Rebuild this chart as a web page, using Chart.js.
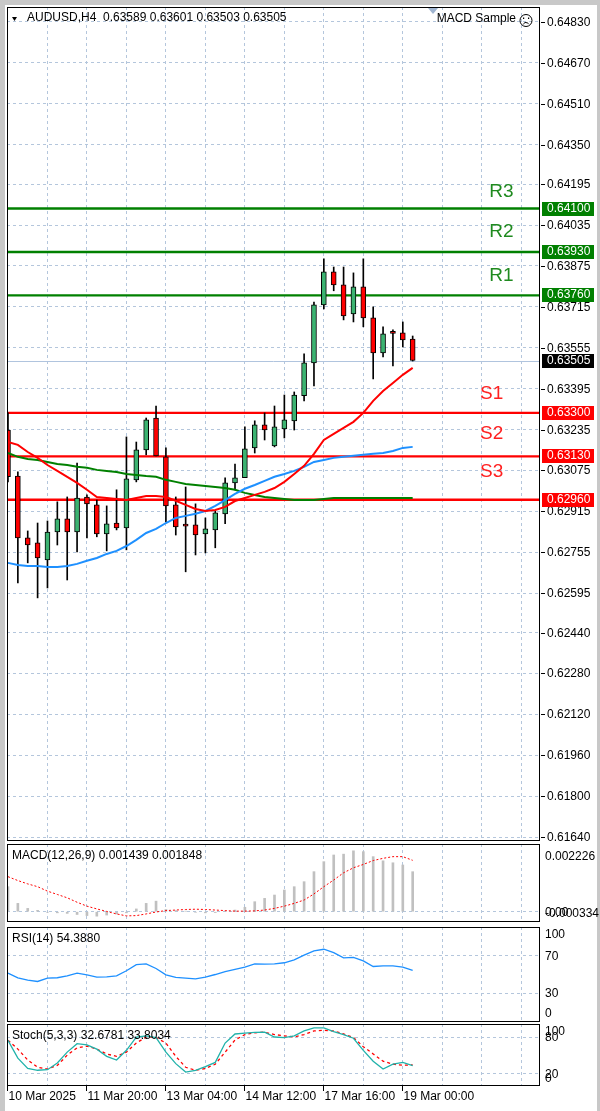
<!DOCTYPE html>
<html>
<head>
<meta charset="utf-8">
<script src="https://cdn.jsdelivr.net/npm/chart.js@4.4.1/dist/chart.umd.min.js"></script>
<style>
  body { margin: 0; width: 600px; height: 1111px; position: relative; background: #fff; overflow: hidden; }
  canvas { position: absolute; left: 0; }
  .edge { position: absolute; background: #c8c8c8; }
</style>
</head>
<body>
<div class="edge" style="left:0;top:0;width:600px;height:5px"></div>
<div class="edge" style="left:0;top:0;width:5px;height:1111px"></div>
<div class="edge" style="left:597px;top:0;width:3px;height:1111px"></div>
<canvas id="main" width="600" height="834" style="top:7px"></canvas>
<canvas id="macd" width="600" height="78" style="top:844px"></canvas>
<canvas id="rsi" width="600" height="95" style="top:927px"></canvas>
<canvas id="stoch" width="600" height="87" style="top:1024px"></canvas>
<script>
// AUDUSD H4 candles
const opens  = [0.63233,0.63053,0.62811,0.62791,0.62725,0.62834,0.62885,0.62834,0.62971,0.62940,0.62826,0.62869,0.62850,0.63038,0.63155,0.63280,0.63128,0.62940,0.62858,0.62862,0.62826,0.62842,0.62905,0.63026,0.63046,0.63163,0.63253,0.63171,0.63237,0.63269,0.63367,0.63496,0.63723,0.63852,0.63801,0.63687,0.63793,0.63672,0.63535,0.63613,0.63613,0.63589];
const highs  = [0.63300,0.63069,0.62838,0.62869,0.62877,0.62952,0.62971,0.63104,0.62979,0.62959,0.62936,0.62999,0.63206,0.63186,0.63280,0.63327,0.63163,0.62971,0.63010,0.62944,0.62889,0.62916,0.63046,0.63100,0.63245,0.63269,0.63300,0.63327,0.63370,0.63382,0.63531,0.63734,0.63903,0.63871,0.63871,0.63848,0.63903,0.63715,0.63637,0.63625,0.63656,0.63601];
const lows   = [0.63030,0.62635,0.62713,0.62576,0.62615,0.62783,0.62646,0.62756,0.62811,0.62815,0.62760,0.62842,0.62764,0.63030,0.63136,0.63132,0.62873,0.62822,0.62678,0.62744,0.62752,0.62772,0.62866,0.62999,0.63046,0.63143,0.63194,0.63167,0.63202,0.63233,0.63347,0.63406,0.63707,0.63778,0.63664,0.63656,0.63637,0.63433,0.63519,0.63484,0.63558,0.63503];
const closes = [0.63050,0.62811,0.62783,0.62732,0.62834,0.62885,0.62834,0.62967,0.62944,0.62826,0.62866,0.62850,0.63042,0.63155,0.63273,0.63132,0.62936,0.62854,0.62857,0.62822,0.62846,0.62909,0.63026,0.63046,0.63159,0.63253,0.63233,0.63245,0.63273,0.63370,0.63496,0.63723,0.63852,0.63801,0.63680,0.63793,0.63672,0.63535,0.63609,0.63611,0.63586,0.63505];

// moving averages
const maRed   = [0.63186,0.63175,0.63147,0.63124,0.63096,0.63073,0.63050,0.63026,0.62999,0.62971,0.62967,0.62963,0.62959,0.62967,0.62975,0.62975,0.62971,0.62956,0.62940,0.62924,0.62916,0.62920,0.62932,0.62955,0.62967,0.62979,0.62991,0.63006,0.63030,0.63061,0.63093,0.63140,0.63194,0.63218,0.63241,0.63265,0.63300,0.63347,0.63386,0.63417,0.63449,0.63476];
const maBlue  = [0.62713,0.62705,0.62701,0.62701,0.62697,0.62697,0.62701,0.62709,0.62721,0.62732,0.62748,0.62760,0.62779,0.62803,0.62830,0.62846,0.62869,0.62889,0.62897,0.62905,0.62916,0.62936,0.62959,0.62983,0.63003,0.63018,0.63034,0.63050,0.63061,0.63073,0.63089,0.63108,0.63116,0.63124,0.63128,0.63132,0.63136,0.63140,0.63143,0.63151,0.63163,0.63167];
const maGreen = [0.63143,0.63128,0.63120,0.63116,0.63108,0.63100,0.63096,0.63089,0.63085,0.63077,0.63073,0.63069,0.63061,0.63057,0.63053,0.63050,0.63038,0.63030,0.63022,0.63018,0.63014,0.63010,0.63006,0.62999,0.62987,0.62979,0.62971,0.62967,0.62963,0.62959,0.62959,0.62959,0.62963,0.62967,0.62967,0.62967,0.62967,0.62967,0.62967,0.62967,0.62967,0.62967];

// indicators
const macdHist   = [0.00090,0.00030,0.00012,0.00005,-0.00002,-0.00004,-0.00006,-0.00010,-0.00014,-0.00016,-0.00012,-0.00008,-0.00004,0.00010,0.00030,0.00038,0.00008,0.00004,0.00002,-0.00002,-0.00004,-0.00003,0.00002,0.00006,0.00016,0.00036,0.00048,0.00060,0.00078,0.00090,0.00108,0.00144,0.00180,0.00204,0.00207,0.00219,0.00216,0.00198,0.00183,0.00176,0.00168,0.001439];
const macdSignal = [0.00126,0.00112,0.00100,0.00090,0.00074,0.00062,0.00050,0.00034,0.00020,0.00010,0.00001,-0.00008,-0.00015,-0.00014,-0.00008,-0.00001,0.00004,0.00006,0.00008,0.00009,0.00008,0.00006,0.00004,0.00002,0.00002,0.00003,0.00006,0.00012,0.00020,0.00030,0.00042,0.00064,0.00090,0.00114,0.00140,0.00158,0.00170,0.00184,0.00192,0.00198,0.00198,0.001848];
const rsi        = [51.4,46.5,44.0,42.5,46.0,46.5,48.5,51.4,49.5,47.2,47.5,48.5,54.0,60.5,61.5,56.5,49.6,46.8,46.0,45.4,47.2,50.0,53.2,55.5,58.0,61.4,61.1,61.3,62.6,65.7,70.8,75.4,77.1,73.4,67.8,68.4,64.6,58.6,59.3,59.3,57.9,54.388];
const stochK     = [74.5,45,28,25,26,37,55,69,67,60,48,42,58,80,82,79,55,36,22,25,31,38,70,85,86.5,87.5,88,80,79,82,90,95,95,89,84,78,58,40,27,35,38,32.6781];
const stochD     = [74.5,60,42,30,27,33,50,62,65,60,52,48,55,70,80,79,70,48,30,25,28,35,55,75,84,87,88,84,82,80,84,90,91,90,85,79,64,52,40,35,33.5,33.8034];

// levels and labels
const levelNames  = ['R3', 'R2', 'R1', 'S1', 'S2', 'S3'];
const levelPrices = [0.64100, 0.63930, 0.63760, 0.63300, 0.63130, 0.62960];
const levelTextAt = [0.64165, 0.64008, 0.63836, 0.63374, 0.63218, 0.63069];
const lastPrice = 0.63505;
const priceTicks = [0.64830,0.64670,0.64510,0.64350,0.64195,0.64035,0.63875,0.63715,0.63555,0.63395,0.63235,0.63075,0.62915,0.62755,0.62595,0.62440,0.62280,0.62120,0.61960,0.61800,0.61640];
const macdTicks = [0.002226, 0, -0.000334];
const macdTickLabels = ['0.002226', '0.00', '-0.000334'];
const rsiTicks = [100, 70, 30, 0];
const stochTicks = [100, 80, 20, 0];
const dateLabels = ['10 Mar 2025', '11 Mar 20:00', '13 Mar 04:00', '14 Mar 12:00', '17 Mar 16:00', '19 Mar 00:00'];
const dateBars = [0, 8, 16, 24, 32, 40];

const FONT = '12px "Liberation Sans", Arial, sans-serif';
const GRID = '#b4c6dc';
const idx = closes.map((_, i) => i);
const pts = arr => arr.map((v, i) => ({x: i, y: v}));

function xAxis() {
  return {
    type: 'linear', min: -0.1, max: 53.9, offset: false,
    afterBuildTicks: s => { s.ticks = []; for (let v = 0; v <= 53; v += 4) s.ticks.push({value: v}); },
    ticks: {display: false},
    grid: {color: GRID, drawTicks: false, offset: false},
    border: {display: false, dash: [3, 3]}
  };
}
function yAxis(min, max, lines) {
  return {
    type: 'linear', position: 'right', min: min, max: max,
    afterBuildTicks: s => { s.ticks = lines.map(v => ({value: v})); },
    afterFit: s => { s.width = 60; },
    ticks: {display: false},
    grid: {color: GRID, drawTicks: false},
    border: {display: false, dash: [3, 3]}
  };
}
function text(ctx, s, x, y, color, font, align, base) {
  ctx.fillStyle = color;
  ctx.font = font || FONT;
  ctx.textAlign = align || 'left';
  ctx.textBaseline = base || 'middle';
  ctx.fillText(s, x, y);
}
const frame = {
  id: 'frame',
  afterDraw(chart) {
    const {ctx, chartArea: a} = chart;
    ctx.save();
    ctx.strokeStyle = '#000';
    ctx.lineWidth = 1;
    ctx.strokeRect(a.left + 0.5, a.top + 0.5, a.right - a.left - 1, a.bottom - a.top - 1);
    ctx.restore();
  }
};
// labels on the right of a sub window: top one hangs, bottom one sits
function sideLabels(values, labels) {
  return {
    id: 'side',
    afterDraw(chart) {
      const {ctx, scales: {y}} = chart;
      const hi = Math.max(...values), lo = Math.min(...values);
      values.forEach((v, k) => {
        const py = y.getPixelForValue(v);
        const base = v === hi ? 'top' : v === lo ? 'bottom' : 'middle';
        text(ctx, labels[k], 545, v === hi ? py + 1 : v === lo ? py - 1 : py + 1, '#000', FONT, 'left', base);
      });
    }
  };
}
function caption(s) {
  return {
    id: 'caption',
    afterDraw(chart) { text(chart.ctx, s, 12, chart.chartArea.top + 12, '#000'); }
  };
}
function baseOptions(x, y, padBottom) {
  return {
    responsive: false, animation: false, events: [],
    layout: {padding: {left: 7, top: 0, right: 0, bottom: padBottom || 0}},
    plugins: {legend: {display: false}, tooltip: {enabled: false}},
    scales: {x: x, y: y}
  };
}

// ---------- main price window ----------
const mainDecor = {
  id: 'mainDecor',
  beforeDatasetsDraw(chart) {
    const {ctx, chartArea: a, scales: {y}} = chart;
    ctx.save();
    ctx.beginPath(); ctx.rect(a.left, a.top, a.right - a.left, a.bottom - a.top); ctx.clip();
    const ly = y.getPixelForValue(lastPrice);
    ctx.strokeStyle = '#b0c4de'; ctx.lineWidth = 1;
    ctx.beginPath(); ctx.moveTo(a.left, Math.round(ly) + 0.5); ctx.lineTo(a.right, Math.round(ly) + 0.5); ctx.stroke();
    levelPrices.forEach((p, k) => {
      const py = y.getPixelForValue(p);
      ctx.strokeStyle = k < 3 ? '#008000' : '#ff0000';
      ctx.lineWidth = 2.4;
      ctx.beginPath(); ctx.moveTo(a.left, py); ctx.lineTo(a.right, py); ctx.stroke();
    });
    ctx.restore();
  },
  afterDatasetsDraw(chart) {
    const {ctx, scales: {x, y}} = chart;
    ctx.save();
    levelNames.forEach((n, k) => {
      const px = x.getPixelForValue(k < 3 ? 50 : 49);
      text(ctx, n, px, y.getPixelForValue(levelTextAt[k]), k < 3 ? '#1f8a1f' : '#ff2020', '19px "Liberation Sans", Arial, sans-serif', 'center');
    });
    // header
    ctx.fillStyle = '#000';
    ctx.beginPath(); ctx.moveTo(12, 10); ctx.lineTo(17, 10); ctx.lineTo(14.5, 14); ctx.closePath(); ctx.fill();
    text(ctx, 'AUDUSD,H4  ' + [opens, highs, lows, closes].map(a => a[a.length - 1].toFixed(5)).join(' '), 27, 11, '#000');
    text(ctx, 'MACD Sample', 516, 12, '#000', FONT, 'right');
    ctx.strokeStyle = '#000'; ctx.lineWidth = 1;
    ctx.beginPath(); ctx.arc(526, 13.5, 6, 0, Math.PI * 2); ctx.stroke();
    ctx.fillRect(523, 10.5, 1.2, 1.5); ctx.fillRect(528, 10.5, 1.2, 1.5);
    ctx.beginPath(); ctx.arc(526, 18.5, 3, Math.PI * 1.15, Math.PI * 1.85); ctx.stroke();
    ctx.fillStyle = '#9fb4d0';
    ctx.beginPath(); ctx.moveTo(428, 1); ctx.lineTo(438, 1); ctx.lineTo(433, 7); ctx.closePath(); ctx.fill();
    ctx.restore();
  },
  afterDraw(chart) {
    const {ctx, scales: {y}} = chart;
    ctx.save();
    ctx.strokeStyle = '#000'; ctx.lineWidth = 1;
    priceTicks.forEach(v => {
      const py = Math.round(y.getPixelForValue(v)) + 0.5;
      ctx.beginPath(); ctx.moveTo(541, py); ctx.lineTo(545, py); ctx.stroke();
      text(ctx, v.toFixed(5), 547, py, '#000');
    });
    const tag = (p, bg) => {
      const py = Math.round(y.getPixelForValue(p));
      ctx.fillStyle = bg; ctx.fillRect(542, py - 7, 52, 14);
      text(ctx, p.toFixed(5), 547, py, '#fff');
    };
    levelPrices.forEach((p, k) => tag(p, k < 3 ? '#008000' : '#ff0000'));
    tag(lastPrice, '#000');
    ctx.restore();
  }
};

new Chart(document.getElementById('main'), {
  type: 'bar',
  data: {
    datasets: [
      {type: 'line', data: pts(maRed), borderColor: '#ff0000', borderWidth: 2, pointRadius: 0, order: 0},
      {type: 'line', data: pts(maBlue), borderColor: '#1e90ff', borderWidth: 2, pointRadius: 0, order: 0},
      {type: 'line', data: pts(maGreen), borderColor: '#008000', borderWidth: 2, pointRadius: 0, order: 0},
      {
        data: idx.map(i => ({x: i, y: [opens[i], closes[i]]})),
        backgroundColor: idx.map(i => closes[i] >= opens[i] ? '#3cb371' : '#ff0000'),
        borderColor: '#000', borderWidth: 1, borderSkipped: false,
        barThickness: 5, minBarLength: 2, grouped: false, order: 1
      },
      {
        data: idx.map(i => ({x: i, y: [lows[i], highs[i]]})),
        backgroundColor: '#000', borderWidth: 0,
        barThickness: 1, grouped: false, order: 2
      }
    ]
  },
  options: baseOptions(xAxis(), yAxis(0.616244, 0.648887, priceTicks)),
  plugins: [mainDecor, frame]
});

// ---------- MACD ----------
new Chart(document.getElementById('macd'), {
  type: 'bar',
  data: {
    datasets: [
      {type: 'line', data: pts(macdSignal), borderColor: '#ff0000', borderWidth: 1, borderDash: [2, 2], pointRadius: 0, order: 0},
      {data: pts(macdHist), backgroundColor: '#c0c0c0', barThickness: 2, grouped: false, order: 1}
    ]
  },
  options: baseOptions(xAxis(), yAxis(-0.00037, 0.002435, [0])),
  plugins: [frame, sideLabels(macdTicks, macdTickLabels),
    caption('MACD(12,26,9) ' + macdHist[macdHist.length - 1].toFixed(6) + ' ' + macdSignal[macdSignal.length - 1].toFixed(6))]
});

// ---------- RSI ----------
new Chart(document.getElementById('rsi'), {
  type: 'line',
  data: {datasets: [{data: pts(rsi), borderColor: '#1e90ff', borderWidth: 1.3, pointRadius: 0}]},
  options: baseOptions(xAxis(), yAxis(-1, 101, [70, 30])),
  plugins: [frame, sideLabels(rsiTicks, rsiTicks.map(String)),
    caption('RSI(14) ' + rsi[rsi.length - 1].toFixed(4))]
});

// ---------- Stochastic ----------
const dates = {
  id: 'dates',
  afterDraw(chart) {
    const {ctx, chartArea: a, scales: {x}} = chart;
    ctx.save();
    ctx.strokeStyle = '#000'; ctx.lineWidth = 1;
    dateBars.forEach((b, k) => {
      const px = Math.round(x.getPixelForValue(b)) - 0.5;
      ctx.beginPath(); ctx.moveTo(px, a.bottom); ctx.lineTo(px, a.bottom + 5); ctx.stroke();
      text(ctx, dateLabels[k], px + 1, a.bottom + 11, '#000');
    });
    ctx.restore();
  }
};
new Chart(document.getElementById('stoch'), {
  type: 'line',
  data: {
    datasets: [
      {data: pts(stochK), borderColor: '#20b2aa', borderWidth: 1.3, pointRadius: 0},
      {data: pts(stochD), borderColor: '#ff0000', borderWidth: 1.3, borderDash: [3, 3], pointRadius: 0}
    ]
  },
  options: baseOptions(xAxis(), yAxis(-1, 101.5, [80, 20]), 25),
  plugins: [frame, dates, sideLabels(stochTicks, stochTicks.map(String)),
    caption('Stoch(5,3,3) ' + stochK[stochK.length - 1].toFixed(4) + ' ' + stochD[stochD.length - 1].toFixed(4))]
});
</script>
</body>
</html>
